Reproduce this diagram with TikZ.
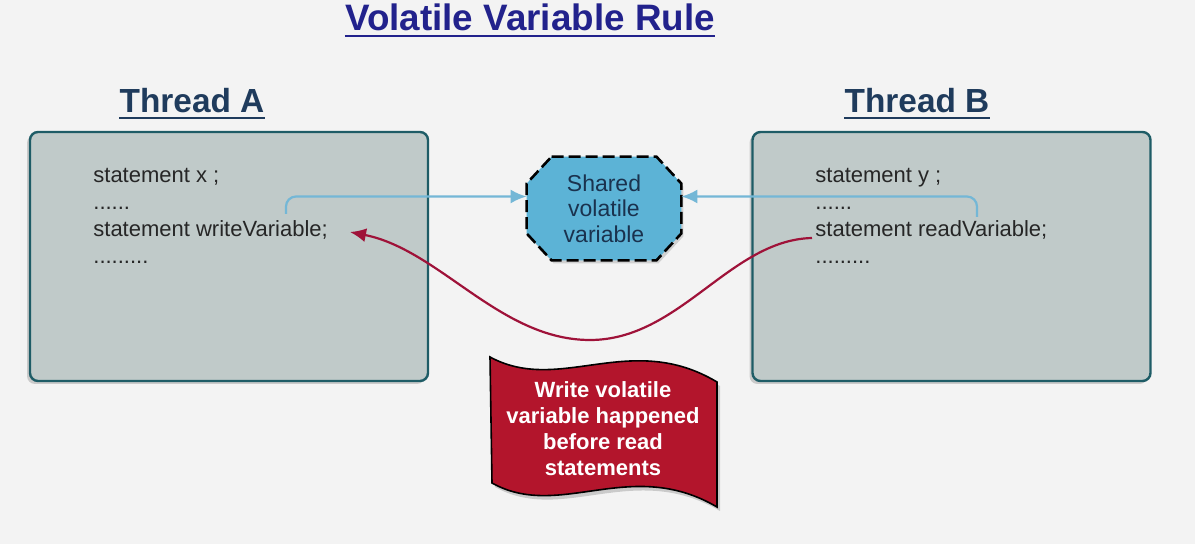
\documentclass[tikz,border=0pt]{standalone}
\usepackage{fontspec}
\setmainfont{Liberation Sans}
\definecolor{VVtitle}{HTML}{22228C}
\definecolor{VVthread}{HTML}{1F3B5C}
\definecolor{VVbox}{HTML}{C0CAC9}
\definecolor{VVedge}{HTML}{1E5C66}
\definecolor{VVshared}{HTML}{5CB3D6}
\definecolor{VVlink}{HTML}{74B7D6}
\definecolor{VVred}{HTML}{9F1239}
\definecolor{VVbanner}{HTML}{B3152C}
\definecolor{VVbg}{HTML}{F3F3F3}
\usetikzlibrary{arrows.meta,calc,shadows}

\begin{document}
\begin{tikzpicture}[x=0.5pt,y=-0.5pt,>=Latex,
  threadbox/.style={draw=VVedge,line width=1.2pt,fill=VVbox,rounded corners=4pt,
    minimum width=199pt,minimum height=124.5pt,
    drop shadow={opacity=0.35,shadow xshift=-1.5pt,shadow yshift=-1.5pt}},
  code/.style={anchor=base west,inner sep=0pt,font=\fontsize{11}{13}\selectfont,text=black!85},
  heading/.style={anchor=base,inner sep=0pt,font=\fontsize{16.7}{18}\selectfont\bfseries,text=VVthread},
  link/.style={draw=VVlink,line width=1.1pt,rounded corners=5pt,-{Latex[length=8pt,width=7pt]}},
  hb/.style={draw=VVred,line width=1.1pt,-{Latex[length=8pt,width=7pt]}}]
  \fill[VVbg] (0,0) rectangle (1195,544);
  \useasboundingbox (0,0) rectangle (1195,544);

  % title
  \node[anchor=base,inner sep=0pt,font=\fontsize{18.4}{20}\selectfont\bfseries,text=VVtitle] (ttl) at (530,31) {Volatile Variable Rule};
  \draw[VVtitle,line width=1.2pt] ($(ttl.base west)+(0,5)$) -- ($(ttl.base east)+(0,5)$);

  % threads
  \node[heading] (hA) at (192,113) {Thread A};
  \node[heading] (hB) at (917,113) {Thread B};
  \draw[VVthread,line width=1.1pt] ($(hA.base west)+(0,5)$) -- ($(hA.base east)+(0,5)$);
  \draw[VVthread,line width=1.1pt] ($(hB.base west)+(0,5)$) -- ($(hB.base east)+(0,5)$);

  \node[threadbox] (tA) at (229,256.5) {};
  \node[threadbox] (tB) at (951.5,256.5) {};

  \node[code] (a1) at (93,183) {statement x ;};
  \node[code] (a2) at (93,210) {......};
  \node[code] (a3) at (93,237) {statement writeVariable;};
  \node[code] (a4) at (93,264) {.........};
  \node[code] (b1) at (815,183) {statement y ;};
  \node[code] (b2) at (815,210) {......};
  \node[code] (b3) at (815,237) {statement readVariable;};
  \node[code] (b4) at (815,264) {.........};

  % shared variable (octagon)
  \node[minimum width=77pt,minimum height=51.5pt,inner sep=0pt] (sh) at (604,208.5) {};
  \draw[fill=VVshared,draw=black,line width=1.3pt,dash pattern=on 6pt off 2.5pt,
    drop shadow={opacity=0.3,shadow xshift=1pt,shadow yshift=-1.5pt}]
    ($(sh.north west)+(25,0)$) -- ($(sh.north east)+(-25,0)$) -- ($(sh.north east)+(0,27)$)
    -- ($(sh.south east)+(0,-27)$) -- ($(sh.south east)+(-25,0)$) -- ($(sh.south west)+(25,0)$)
    -- ($(sh.south west)+(0,-27)$) -- ($(sh.north west)+(0,27)$) -- cycle;
  \node[align=center,text=VVthread!85!black,font=\fontsize{11.5}{12.8}\selectfont] (shtxt) at (sh) {Shared\\volatile\\variable};

  \coordinate (wA) at (286,214);
  \coordinate (rB) at (977,217);
  \draw[link] (wA) |- ($(sh.west)+(0,-12)$);
  \draw[link] (rB) |- ($(sh.east)+(0,-12)$);

  % happens-before
  \coordinate (fromB) at (812,238);
  \coordinate (toA) at (350,232);
  \draw[hb] (fromB) .. controls (730,240) and (680,340) .. (590,340)
                    .. controls (500,340) and (440,250) .. (toA);

  \filldraw[fill=VVbanner,draw=black,line width=0.8pt,
    drop shadow={opacity=0.35,shadow xshift=1.5pt,shadow yshift=-2pt}]
    (490,357) .. controls (560,395) and (630,330) .. (717,382)
    -- (717,507) .. controls (630,456) and (560,521) .. (492,483) -- cycle;
  \node[align=center,text=white,font=\fontsize{11}{13}\selectfont\bfseries] (note) at (603,429)
    {Write volatile\\variable happened\\before read\\statements};
\end{tikzpicture}
\end{document}
